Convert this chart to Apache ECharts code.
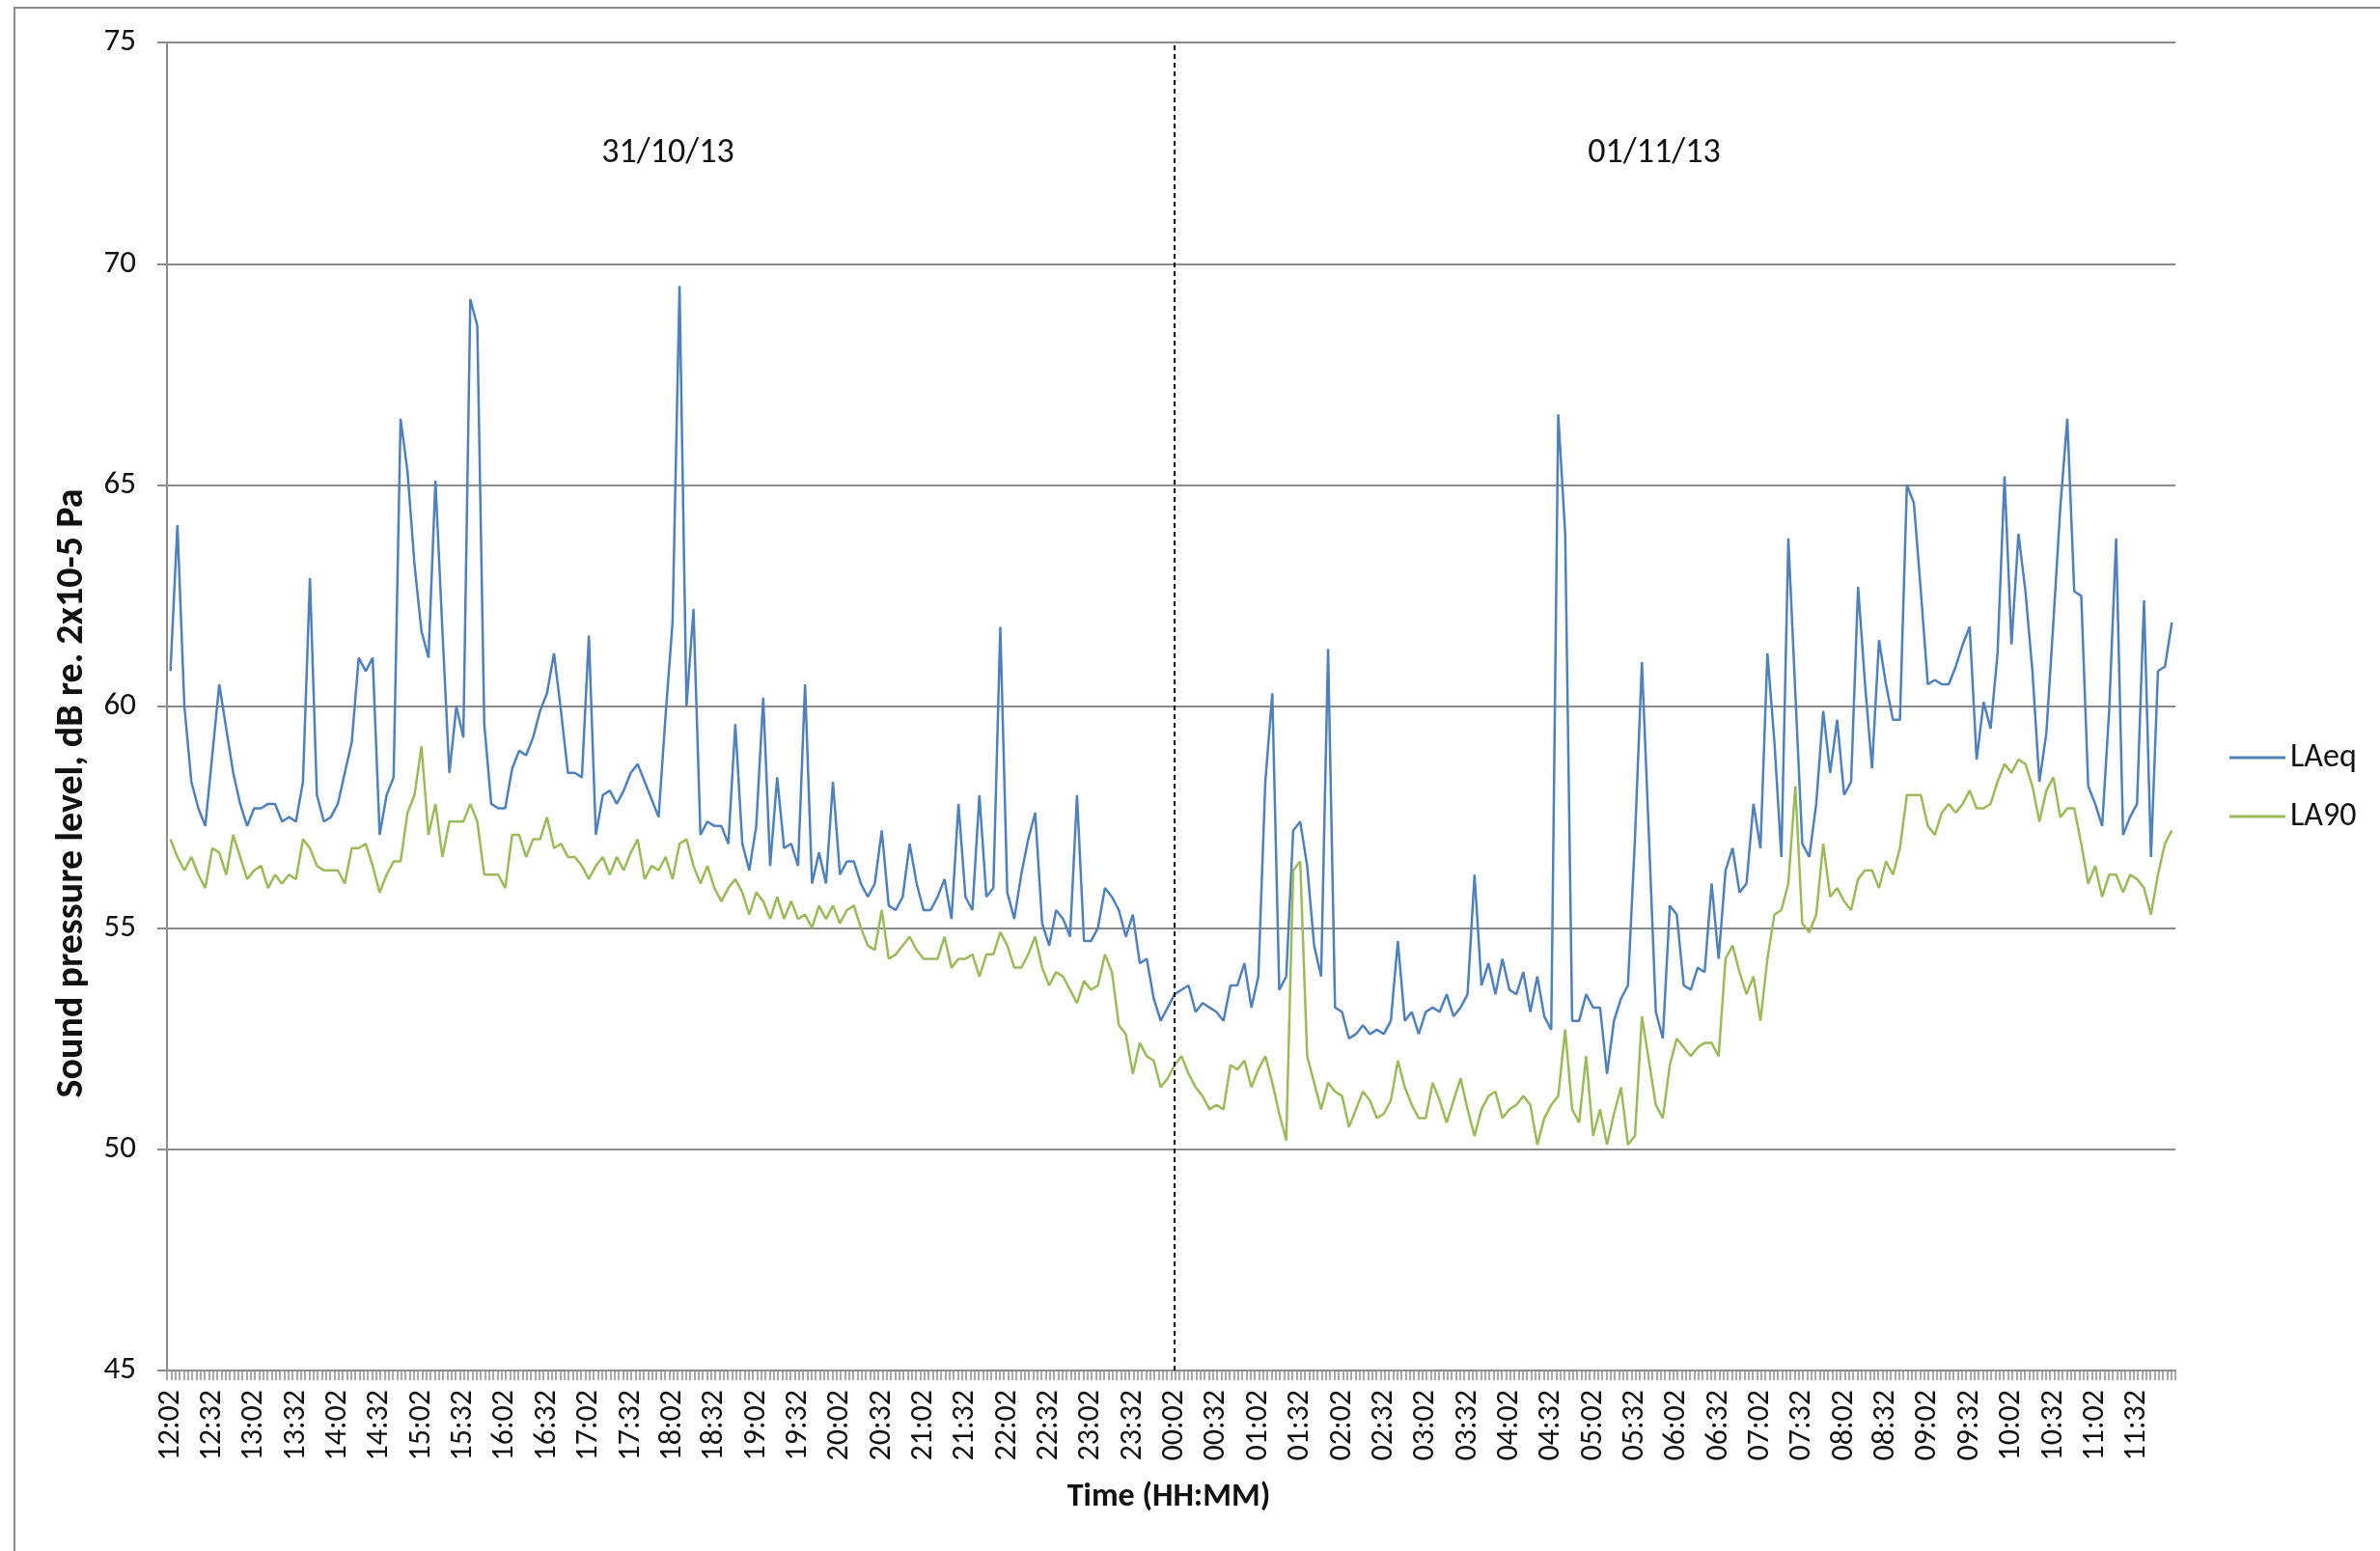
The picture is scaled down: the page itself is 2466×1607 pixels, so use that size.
<!DOCTYPE html>
<html>
<head>
<meta charset="utf-8">
<title>Sound pressure level</title>
<script src="https://cdn.jsdelivr.net/npm/echarts@6/dist/echarts.min.js"></script>
<style>
  html, body { margin: 0; padding: 0; background: #fff; }
  #chart { width: 2466px; height: 1607px; }
</style>
</head>
<body>
<div id="chart"></div>
<script>
// 5-minute readings, 12:02 on 31/10/13 to 11:57 on 01/11/13
var startTime = '12:02';
var stepMinutes = 5;
var pointCount = 288;
var midnightLabel = '00:02';
var dayLabels = ['31/10/13', '01/11/13'];
var seriesNames = ['LAeq', 'LA90'];
var yTicks = [45, 50, 55, 60, 65, 70, 75];

// LAeq, one row per hour
var laeq = [
    60.8, 64.1, 60.0, 58.3, 57.7, 57.3, 58.9, 60.5, 59.5, 58.5, 57.8, 57.3,
    57.7, 57.7, 57.8, 57.8, 57.4, 57.5, 57.4, 58.3, 62.9, 58.0, 57.4, 57.5,
    57.8, 58.5, 59.2, 61.1, 60.8, 61.1, 57.1, 58.0, 58.4, 66.5, 65.3, 63.2,
    61.7, 61.1, 65.1, 61.7, 58.5, 60.0, 59.3, 69.2, 68.6, 59.6, 57.8, 57.7,
    57.7, 58.6, 59.0, 58.9, 59.3, 59.9, 60.3, 61.2, 59.9, 58.5, 58.5, 58.4,
    61.6, 57.1, 58.0, 58.1, 57.8, 58.1, 58.5, 58.7, 58.3, 57.9, 57.5, 59.8,
    61.9, 69.5, 60.0, 62.2, 57.1, 57.4, 57.3, 57.3, 56.9, 59.6, 56.9, 56.3,
    57.3, 60.2, 56.4, 58.4, 56.8, 56.9, 56.4, 60.5, 56.0, 56.7, 56.0, 58.3,
    56.2, 56.5, 56.5, 56.0, 55.7, 56.0, 57.2, 55.5, 55.4, 55.7, 56.9, 56.0,
    55.4, 55.4, 55.7, 56.1, 55.2, 57.8, 55.7, 55.4, 58.0, 55.7, 55.9, 61.8,
    55.8, 55.2, 56.2, 57.0, 57.6, 55.1, 54.6, 55.4, 55.2, 54.8, 58.0, 54.7,
    54.7, 55.0, 55.9, 55.7, 55.4, 54.8, 55.3, 54.2, 54.3, 53.4, 52.9, 53.2,
    53.5, 53.6, 53.7, 53.1, 53.3, 53.2, 53.1, 52.9, 53.7, 53.7, 54.2, 53.2,
    53.9, 58.3, 60.3, 53.6, 53.9, 57.2, 57.4, 56.4, 54.6, 53.9, 61.3, 53.2,
    53.1, 52.5, 52.6, 52.8, 52.6, 52.7, 52.6, 52.9, 54.7, 52.9, 53.1, 52.6,
    53.1, 53.2, 53.1, 53.5, 53.0, 53.2, 53.5, 56.2, 53.7, 54.2, 53.5, 54.3,
    53.6, 53.5, 54.0, 53.1, 53.9, 53.0, 52.7, 66.6, 63.9, 52.9, 52.9, 53.5,
    53.2, 53.2, 51.7, 52.9, 53.4, 53.7, 57.0, 61.0, 57.1, 53.1, 52.5, 55.5,
    55.3, 53.7, 53.6, 54.1, 54.0, 56.0, 54.3, 56.3, 56.8, 55.8, 56.0, 57.8,
    56.8, 61.2, 59.2, 56.6, 63.8, 60.3, 56.9, 56.6, 57.8, 59.9, 58.5, 59.7,
    58.0, 58.3, 62.7, 60.5, 58.6, 61.5, 60.5, 59.7, 59.7, 65.0, 64.6, 62.6,
    60.5, 60.6, 60.5, 60.5, 60.9, 61.4, 61.8, 58.8, 60.1, 59.5, 61.2, 65.2,
    61.4, 63.9, 62.6, 60.8, 58.3, 59.4, 61.9, 64.5, 66.5, 62.6, 62.5, 58.2,
    57.8, 57.3, 59.9, 63.8, 57.1, 57.5, 57.8, 62.4, 56.6, 60.8, 60.9, 61.9
];

// LA90, one row per hour
var la90 = [
    57.0, 56.6, 56.3, 56.6, 56.2, 55.9, 56.8, 56.7, 56.2, 57.1, 56.6, 56.1,
    56.3, 56.4, 55.9, 56.2, 56.0, 56.2, 56.1, 57.0, 56.8, 56.4, 56.3, 56.3,
    56.3, 56.0, 56.8, 56.8, 56.9, 56.4, 55.8, 56.2, 56.5, 56.5, 57.6, 58.0,
    59.1, 57.1, 57.8, 56.6, 57.4, 57.4, 57.4, 57.8, 57.4, 56.2, 56.2, 56.2,
    55.9, 57.1, 57.1, 56.6, 57.0, 57.0, 57.5, 56.8, 56.9, 56.6, 56.6, 56.4,
    56.1, 56.4, 56.6, 56.2, 56.6, 56.3, 56.7, 57.0, 56.1, 56.4, 56.3, 56.6,
    56.1, 56.9, 57.0, 56.4, 56.0, 56.4, 55.9, 55.6, 55.9, 56.1, 55.8, 55.3,
    55.8, 55.6, 55.2, 55.7, 55.2, 55.6, 55.2, 55.3, 55.0, 55.5, 55.2, 55.5,
    55.1, 55.4, 55.5, 55.0, 54.6, 54.5, 55.4, 54.3, 54.4, 54.6, 54.8, 54.5,
    54.3, 54.3, 54.3, 54.8, 54.1, 54.3, 54.3, 54.4, 53.9, 54.4, 54.4, 54.9,
    54.6, 54.1, 54.1, 54.4, 54.8, 54.1, 53.7, 54.0, 53.9, 53.6, 53.3, 53.8,
    53.6, 53.7, 54.4, 54.0, 52.8, 52.6, 51.7, 52.4, 52.1, 52.0, 51.4, 51.6,
    51.9, 52.1, 51.7, 51.4, 51.2, 50.9, 51.0, 50.9, 51.9, 51.8, 52.0, 51.4,
    51.8, 52.1, 51.5, 50.8, 50.2, 56.3, 56.5, 52.1, 51.5, 50.9, 51.5, 51.3,
    51.2, 50.5, 50.9, 51.3, 51.1, 50.7, 50.8, 51.1, 52.0, 51.4, 51.0, 50.7,
    50.7, 51.5, 51.1, 50.6, 51.1, 51.6, 50.9, 50.3, 50.9, 51.2, 51.3, 50.7,
    50.9, 51.0, 51.2, 51.0, 50.1, 50.7, 51.0, 51.2, 52.7, 50.9, 50.6, 52.1,
    50.3, 50.9, 50.1, 50.8, 51.4, 50.1, 50.3, 53.0, 52.0, 51.0, 50.7, 51.9,
    52.5, 52.3, 52.1, 52.3, 52.4, 52.4, 52.1, 54.3, 54.6, 54.0, 53.5, 53.9,
    52.9, 54.3, 55.3, 55.4, 56.0, 58.2, 55.1, 54.9, 55.3, 56.9, 55.7, 55.9,
    55.6, 55.4, 56.1, 56.3, 56.3, 55.9, 56.5, 56.2, 56.8, 58.0, 58.0, 58.0,
    57.3, 57.1, 57.6, 57.8, 57.6, 57.8, 58.1, 57.7, 57.7, 57.8, 58.3, 58.7,
    58.5, 58.8, 58.7, 58.2, 57.4, 58.1, 58.4, 57.5, 57.7, 57.7, 56.9, 56.0,
    56.4, 55.7, 56.2, 56.2, 55.8, 56.2, 56.1, 55.9, 55.3, 56.2, 56.9, 57.2
];

// time labels HH:MM
var timeLabels = [];
(function () {
    var parts = startTime.split(':');
    var start = parseInt(parts[0], 10) * 60 + parseInt(parts[1], 10);
    for (var i = 0; i < pointCount; i++) {
        var m = (start + i * stepMinutes) % 1440;
        var hh = Math.floor(m / 60), mm = m % 60;
        timeLabels.push((hh < 10 ? '0' : '') + hh + ':' + (mm < 10 ? '0' : '') + mm);
    }
})();

var font = 'Carlito, Calibri, Lato, sans-serif';
var gridColor = '#8c8c8c';
var textColor = '#111111';

var chart = echarts.init(document.getElementById('chart'));

var option = {
    animation: false,
    backgroundColor: '#ffffff',
    textStyle: { fontFamily: font },
    grid: { left: 173, top: 44, width: 2081, height: 1376 },
    legend: {
        data: seriesNames,
        orient: 'vertical',
        left: 2305,
        top: 763,
        icon: 'rect',
        itemWidth: 58,
        itemHeight: 3,
        itemGap: 27,
        textStyle: { fontSize: 34, color: textColor, fontFamily: font }
    },
    xAxis: [{
        type: 'category',
        data: timeLabels,
        boundaryGap: true,
        axisLine: { lineStyle: { color: gridColor, width: 2 } },
        axisTick: { show: false },
        splitLine: { show: false },
        axisLabel: {
            interval: 5,
            rotate: 90,
            margin: 20,
            fontSize: 32,
            color: textColor,
            fontFamily: font
        }
    }, {
        // fine tick marks along the time axis (3 minute spacing)
        type: 'value',
        position: 'bottom',
        min: 0,
        max: 480,
        interval: 1,
        axisLine: { show: false },
        axisLabel: { show: false },
        splitLine: { show: false },
        axisTick: { show: true, length: 10, lineStyle: { color: gridColor, width: 1.5 } }
    }],
    yAxis: {
        type: 'value',
        min: yTicks[0],
        max: yTicks[yTicks.length - 1],
        interval: 5,
        axisLine: { show: true, lineStyle: { color: gridColor, width: 2 } },
        axisTick: { show: true, length: 10, lineStyle: { color: gridColor, width: 2 } },
        splitLine: { show: true, lineStyle: { color: gridColor, width: 2 } },
        axisLabel: { fontSize: 33, margin: 32, color: textColor, fontFamily: font }
    },
    series: [{
        name: seriesNames[0],
        type: 'line',
        data: laeq,
        symbol: 'none',
        color: '#4f81bd',
        lineStyle: { width: 2.5, color: '#4f81bd' },
        markLine: {
            silent: true,
            symbol: ['none', 'none'],
            label: { show: false },
            lineStyle: { type: [5, 4], color: '#000', width: 2 },
            data: [{ xAxis: midnightLabel }]
        }
    }, {
        name: seriesNames[1],
        type: 'line',
        data: la90,
        symbol: 'none',
        color: '#9bbb59',
        lineStyle: { width: 2.5, color: '#9bbb59' }
    }],
    graphic: [{
        type: 'rect',
        silent: true,
        z: -10,
        shape: { x: 15, y: 8, width: 2600, height: 1700 },
        style: { fill: 'none', stroke: gridColor, lineWidth: 2 }
    }, {
        type: 'text',
        x: 692, y: 159,
        style: { text: dayLabels[0], font: '36px ' + font, fill: textColor, align: 'center', verticalAlign: 'middle' }
    }, {
        type: 'text',
        x: 1714, y: 159,
        style: { text: dayLabels[1], font: '36px ' + font, fill: textColor, align: 'center', verticalAlign: 'middle' }
    }, {
        type: 'text',
        x: 1211, y: 1551,
        style: { text: 'Time (HH:MM)', font: 'bold 34px ' + font, fill: textColor, align: 'center', verticalAlign: 'middle' }
    }, {
        type: 'text',
        x: 75, y: 822,
        rotation: Math.PI / 2,
        style: { text: 'Sound pressure level, dB re. 2x10-5 Pa', font: 'bold 40px ' + font, fill: textColor, align: 'center', verticalAlign: 'middle' }
    }]
};

chart.setOption(option);
</script>
</body>
</html>
